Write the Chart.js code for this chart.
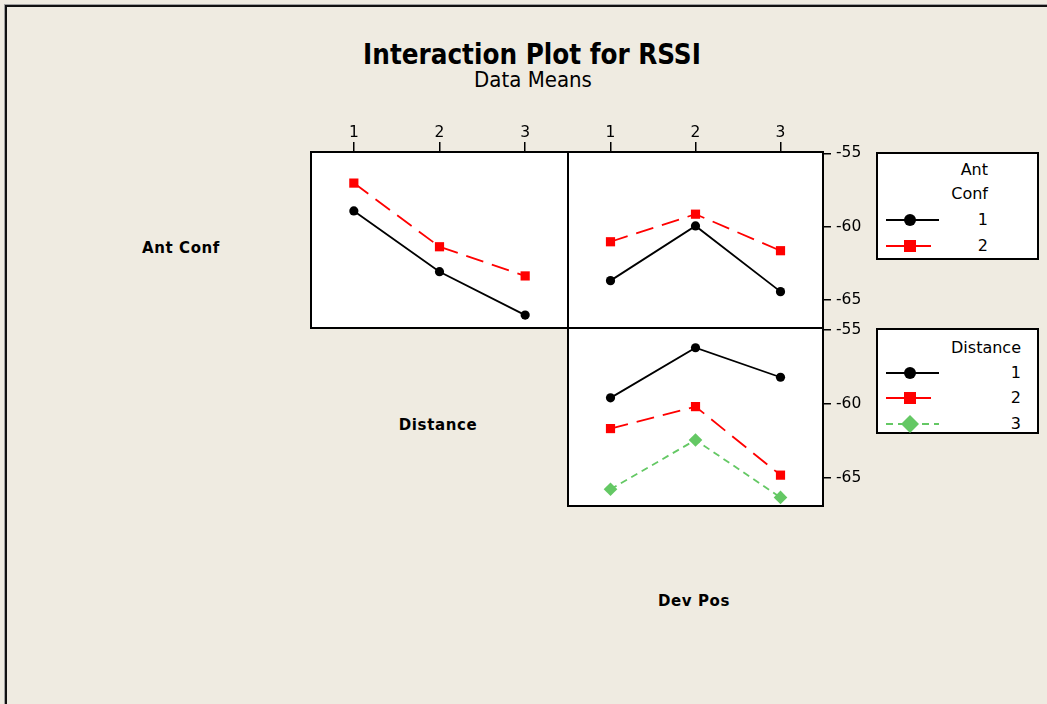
<!DOCTYPE html>
<html>
<head>
<meta charset="utf-8">
<title>Interaction Plot for RSSI</title>
<script src="https://cdn.jsdelivr.net/npm/chart.js@4.4.1/dist/chart.umd.min.js"></script>
<style>
  html, body { margin: 0; padding: 0; }
  body {
    width: 1047px; height: 704px; position: relative; overflow: hidden;
    background: #efebe1; font-family: "DejaVu Sans", sans-serif; color: #000;
  }
  .frame {
    position: absolute; left: 5px; top: 5px; width: 1100px; height: 760px;
    border-left: 2px solid #111; border-top: 2px solid #111;
    box-shadow: -1px -1px 0 #a0a0a0;
  }
  canvas { position: absolute; }
  .lbl { position: absolute; transform: translate(-50%, -50%); white-space: nowrap; line-height: 1; }
  .title { font-family: "DejaVu Sans Condensed", "DejaVu Sans", sans-serif; font-weight: bold; font-size: 27.5px; font-stretch: condensed; }
  .subtitle { font-family: "DejaVu Sans Condensed", "DejaVu Sans", sans-serif; font-size: 22px; font-stretch: condensed; }
  .factor { font-weight: bold; font-size: 15px; letter-spacing: 0.6px; }
  .legbox { position: absolute; box-sizing: border-box; border: 2px solid #000; background: #fff; }
  .legtxt { position: absolute; white-space: nowrap; line-height: 1; font-size: 16px; transform: translate(-100%, -50%); }
  .legsample { position: absolute; }
</style>
</head>
<body>
<div class="frame"></div>

<div class="lbl title" style="left:532px; top:55px;">Interaction Plot for RSSI</div>
<div class="lbl subtitle" style="left:533px; top:80px;">Data Means</div>

<div class="lbl factor" style="left:181px; top:248px;">Ant Conf</div>
<div class="lbl factor" style="left:438px; top:425px;">Distance</div>
<div class="lbl factor" style="left:694px; top:601px;">Dev Pos</div>

<canvas id="pAntDist" width="281" height="218" style="left:299px; top:122px;"></canvas>
<canvas id="pAntDev" width="317" height="218" style="left:556px; top:122px;"></canvas>
<canvas id="pDistDev" width="317" height="202" style="left:556px; top:316px;"></canvas>

<script>
// Factor levels and axis ticks
const levels = [1, 2, 3];
const xTickLabels = ['1', '2', '3'];
const yTickValues = [-65, -60, -55];
const yTickLabels = ['-65', '-60', '-55'];

// Mean RSSI by Ant Conf across Distance levels
const antConf1ByDistance = [-58.92, -63.06, -66.02];
const antConf2ByDistance = [-57.02, -61.36, -63.35];

// Mean RSSI by Ant Conf across Dev Pos levels
const antConf1ByDevPos = [-63.67, -59.94, -64.42];
const antConf2ByDevPos = [-61.02, -59.14, -61.63];

// Mean RSSI by Distance across Dev Pos levels
const distance1ByDevPos = [-59.61, -56.23, -58.22];
const distance2ByDevPos = [-61.68, -60.20, -64.82];
const distance3ByDevPos = [-65.77, -62.45, -66.32];

// Legend names
const antConfNames = ['1', '2'];
const distanceNames = ['1', '2', '3'];

// Line / symbol styles per level
const levelStyles = [
  { color: '#000000', dash: [], shape: 'circle', radius: 4.6, legendSize: 12 },
  { color: '#ff0000', dash: [18, 9], shape: 'rect', radius: 6.5, legendSize: 12 },
  { color: '#64c864', dash: [7, 5], shape: 'rectRot', radius: 6.8, legendSize: 18 }
];

const yMin = -66.9, yMax = -54.9;
const tickFontSize = 15.5;

Chart.defaults.font.family = '"DejaVu Sans", sans-serif';
Chart.defaults.color = '#000';

function makeDataset(values, style) {
  return {
    data: levels.map((x, i) => ({ x: x, y: values[i] })),
    borderColor: style.color,
    backgroundColor: style.color,
    borderWidth: 1.8,
    borderDash: style.dash,
    pointStyle: style.shape,
    pointRadius: style.radius,
    pointBorderWidth: 0,
    pointBackgroundColor: style.color,
    tension: 0,
    clip: false
  };
}

function xScale(show) {
  return {
    type: 'linear', position: 'top', min: 0.5, max: 3.5, display: show,
    afterBuildTicks: s => { s.ticks = levels.map(v => ({ value: v })); },
    afterFit: s => {
      if (!show) return;
      s.height = 30; s.paddingLeft = 0; s.paddingRight = 0;
    },
    grid: { display: true, drawOnChartArea: false, drawTicks: true, tickLength: 10, color: '#000', lineWidth: 1.5 },
    border: { display: false },
    ticks: { color: '#000', font: { size: tickFontSize }, padding: 0, maxRotation: 0, autoSkip: false,
             callback: (v, i) => xTickLabels[i] }
  };
}

function yScale(show) {
  return {
    type: 'linear', position: 'right', min: yMin, max: yMax, display: show,
    afterBuildTicks: s => { s.ticks = yTickValues.map(v => ({ value: v })); },
    afterFit: s => {
      if (!show) return;
      s.width = 50; s.paddingTop = 0; s.paddingBottom = 0;
    },
    grid: { display: true, drawOnChartArea: false, drawTicks: true, tickLength: 8, color: '#000', lineWidth: 1.5 },
    border: { display: false },
    ticks: { color: '#000', font: { size: tickFontSize }, padding: 5, autoSkip: false,
             callback: (v, i) => yTickLabels[i] }
  };
}

// White plotting area with a black frame
const panelFrame = {
  id: 'panelFrame',
  beforeDraw(chart) {
    const a = chart.chartArea, ctx = chart.ctx;
    ctx.save();
    ctx.fillStyle = '#ffffff';
    ctx.fillRect(a.left, a.top, a.right - a.left, a.bottom - a.top);
    ctx.restore();
  },
  afterDraw(chart) {
    const a = chart.chartArea, ctx = chart.ctx;
    ctx.save();
    ctx.strokeStyle = '#000';
    ctx.lineWidth = 2;
    ctx.strokeRect(a.left, a.top, a.right - a.left, a.bottom - a.top);
    ctx.restore();
  }
};

function makePanel(id, datasets, opts) {
  return new Chart(document.getElementById(id), {
    type: 'line',
    data: { datasets: datasets },
    options: {
      responsive: false, animation: false, devicePixelRatio: 1, events: [],
      layout: { padding: opts.padding },
      scales: { x: xScale(opts.showX), y: yScale(opts.showY) },
      plugins: { legend: { display: false }, tooltip: { enabled: false }, title: { display: false } }
    },
    plugins: [panelFrame]
  });
}

makePanel('pAntDist', [
  makeDataset(antConf1ByDistance, levelStyles[0]),
  makeDataset(antConf2ByDistance, levelStyles[1])
], { showX: true, showY: false, padding: { left: 12, right: 12, top: 0, bottom: 12 } });

makePanel('pAntDev', [
  makeDataset(antConf1ByDevPos, levelStyles[0]),
  makeDataset(antConf2ByDevPos, levelStyles[1])
], { showX: true, showY: true, padding: { left: 12, right: 0, top: 0, bottom: 12 } });

makePanel('pDistDev', [
  makeDataset(distance1ByDevPos, levelStyles[0]),
  makeDataset(distance2ByDevPos, levelStyles[1]),
  makeDataset(distance3ByDevPos, levelStyles[2])
], { showX: false, showY: true, padding: { left: 12, right: 0, top: 12, bottom: 12 } });

// Legend boxes: title lines, one sample row per level
function sampleSvg(style) {
  const w = 56, h = 22, cy = 11, cx = 24;
  const dash = style.dash.length ? ` stroke-dasharray="${style.dash.join(' ')}"` : '';
  let mark = '';
  const s = style.legendSize;
  if (style.shape === 'circle') {
    mark = `<circle cx="${cx}" cy="${cy}" r="${s / 2}" fill="${style.color}"/>`;
  } else if (style.shape === 'rect') {
    mark = `<rect x="${cx - s / 2}" y="${cy - s / 2}" width="${s}" height="${s}" fill="${style.color}"/>`;
  } else {
    const r = s / 2;
    mark = `<polygon points="${cx},${cy - r} ${cx + r},${cy} ${cx},${cy + r} ${cx - r},${cy}" fill="${style.color}"/>`;
  }
  return `<svg width="${w}" height="${h}" xmlns="http://www.w3.org/2000/svg">` +
    `<line x1="0" y1="${cy}" x2="53" y2="${cy}" stroke="${style.color}" stroke-width="1.8"${dash}/>` +
    mark + `</svg>`;
}

function buildLegend(cfg) {
  const box = document.createElement('div');
  box.className = 'legbox';
  box.style.left = cfg.left + 'px'; box.style.top = cfg.top + 'px';
  box.style.width = cfg.width + 'px'; box.style.height = cfg.height + 'px';
  document.body.appendChild(box);
  cfg.titleLines.forEach((t, i) => {
    const d = document.createElement('div');
    d.className = 'legtxt';
    d.textContent = t;
    d.style.left = cfg.textRight + 'px';
    d.style.top = cfg.titleY[i] + 'px';
    document.body.appendChild(d);
  });
  cfg.names.forEach((n, i) => {
    const sv = document.createElement('div');
    sv.className = 'legsample';
    sv.style.left = '886px';
    sv.style.top = (cfg.rowY[i] - 11) + 'px';
    sv.innerHTML = sampleSvg(levelStyles[i]);
    document.body.appendChild(sv);
    const d = document.createElement('div');
    d.className = 'legtxt';
    d.textContent = n;
    d.style.left = cfg.textRight + 'px';
    d.style.top = cfg.rowY[i] + 'px';
    document.body.appendChild(d);
  });
}

buildLegend({ left: 876, top: 152, width: 163, height: 108, titleLines: ['Ant', 'Conf'],
  titleY: [169.5, 193.5], names: antConfNames, rowY: [220, 246], textRight: 988 });
buildLegend({ left: 876, top: 328, width: 163, height: 106, titleLines: ['Distance'],
  titleY: [347.5], names: distanceNames, rowY: [372.5, 397.5, 423.5], textRight: 1021 });
</script>
</body>
</html>
